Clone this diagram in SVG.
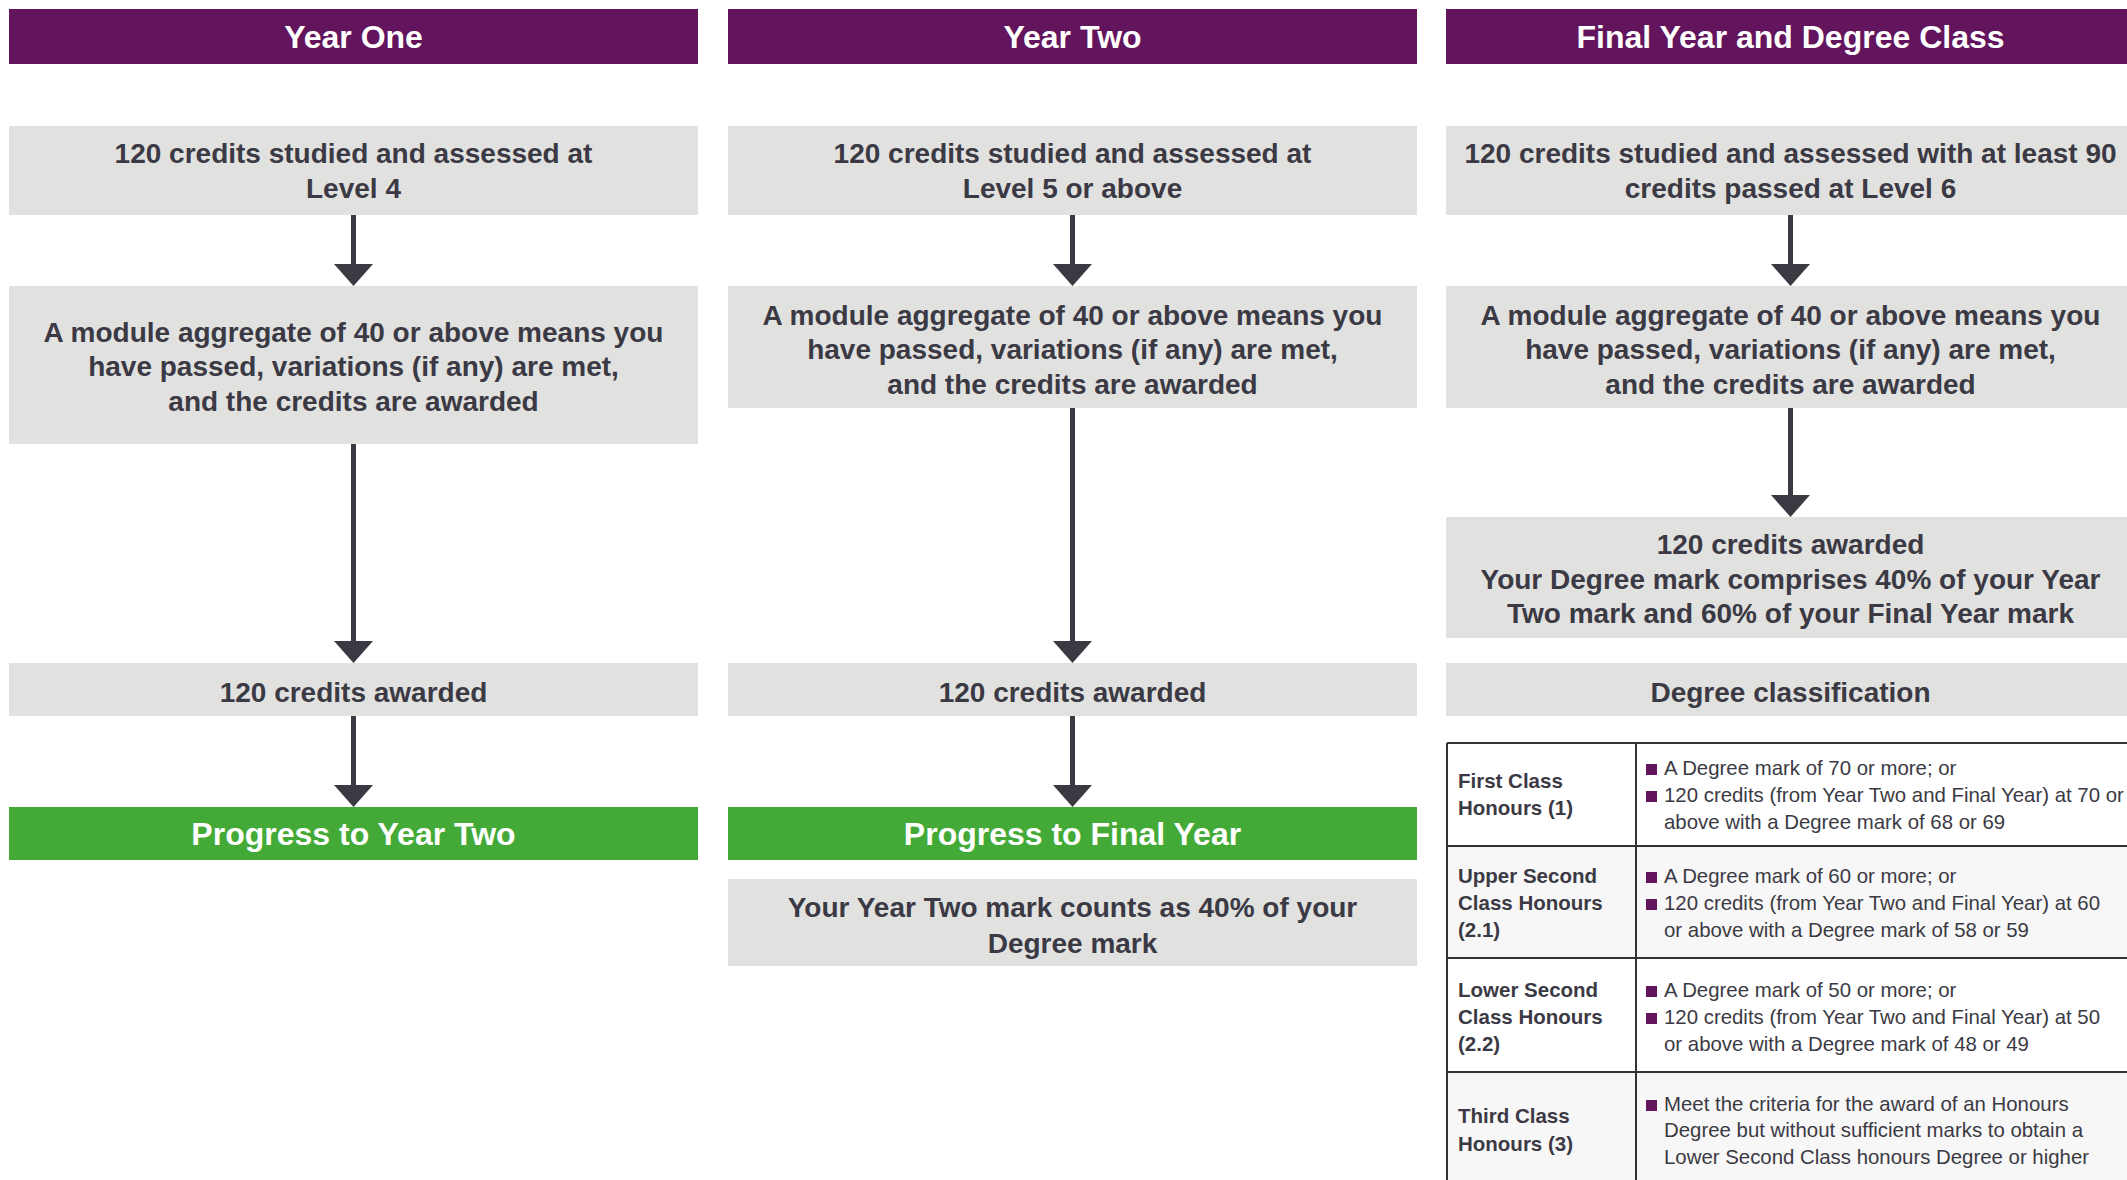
<svg xmlns="http://www.w3.org/2000/svg" width="2127" height="1180" viewBox="0 0 2127 1180">
<style>
.hdr{fill:#62145c}
.box{fill:#e1e1e0}
.go{fill:#44aa37}
.ht{font-family:"Liberation Sans",Arial,sans-serif;font-weight:bold;font-size:32px;fill:#ffffff;text-anchor:middle}
.bt{font-family:"Liberation Sans",Arial,sans-serif;font-weight:bold;font-size:28px;fill:#3b3a44;text-anchor:middle}
.lbl{font-family:"Liberation Sans",Arial,sans-serif;font-weight:bold;font-size:20.5px;fill:#3b3a44}
.bul{font-family:"Liberation Sans",Arial,sans-serif;font-size:20.4px;fill:#3b3a44}
.sq{fill:#62145c}
.ln{stroke:#3a3a42;stroke-width:5;fill:none}
.ah{fill:#3a3a42}
.grid{stroke:#333333;stroke-width:2;fill:none}
</style>
<rect width="2127" height="1180" fill="#ffffff"/>

<g id="col1">
<g id="h1"><rect class="hdr" x="9" y="9" width="689" height="55"/><text class="ht" x="353.5" y="48">Year One</text></g>
<g id="c1b1"><rect class="box" x="9" y="126" width="689" height="89"/><text class="bt" x="353.5" y="163">120 credits studied and assessed at</text><text class="bt" x="353.5" y="198">Level 4</text></g>
<g id="c1b2"><rect class="box" x="9" y="286" width="689" height="158"/><text class="bt" x="353.5" y="342">A module aggregate of 40 or above means you</text><text class="bt" x="353.5" y="376">have passed, variations (if any) are met,</text><text class="bt" x="353.5" y="411">and the credits are awarded</text></g>
<g id="c1b3"><rect class="box" x="9" y="663" width="689" height="53"/><text class="bt" x="353.5" y="702">120 credits awarded</text></g>
<g id="c1b4"><rect class="go" x="9" y="807" width="689" height="53"/><text class="ht" x="353.5" y="845">Progress to Year Two</text></g>
</g>

<g id="col2">
<g id="h2"><rect class="hdr" x="728" y="9" width="689" height="55"/><text class="ht" x="1072.5" y="48">Year Two</text></g>
<g id="c2b1"><rect class="box" x="728" y="126" width="689" height="89"/><text class="bt" x="1072.5" y="163">120 credits studied and assessed at</text><text class="bt" x="1072.5" y="198">Level 5 or above</text></g>
<g id="c2b2"><rect class="box" x="728" y="286" width="689" height="122"/><text class="bt" x="1072.5" y="325">A module aggregate of 40 or above means you</text><text class="bt" x="1072.5" y="359">have passed, variations (if any) are met,</text><text class="bt" x="1072.5" y="394">and the credits are awarded</text></g>
<g id="c2b3"><rect class="box" x="728" y="663" width="689" height="53"/><text class="bt" x="1072.5" y="702">120 credits awarded</text></g>
<g id="c2b4"><rect class="go" x="728" y="807" width="689" height="53"/><text class="ht" x="1072.5" y="845">Progress to Final Year</text></g>
<g id="c2b5"><rect class="box" x="728" y="879" width="689" height="87"/><text class="bt" x="1072.5" y="917">Your Year Two mark counts as 40% of your</text><text class="bt" x="1072.5" y="953">Degree mark</text></g>
</g>

<g id="col3">
<g id="h3"><rect class="hdr" x="1446" y="9" width="689" height="55"/><text class="ht" x="1790.5" y="48">Final Year and Degree Class</text></g>
<g id="c3b1"><rect class="box" x="1446" y="126" width="689" height="89"/><text class="bt" x="1790.5" y="163">120 credits studied and assessed with at least 90</text><text class="bt" x="1790.5" y="198">credits passed at Level 6</text></g>
<g id="c3b2"><rect class="box" x="1446" y="286" width="689" height="122"/><text class="bt" x="1790.5" y="325">A module aggregate of 40 or above means you</text><text class="bt" x="1790.5" y="359">have passed, variations (if any) are met,</text><text class="bt" x="1790.5" y="394">and the credits are awarded</text></g>
<g id="c3b3"><rect class="box" x="1446" y="517" width="689" height="121"/><text class="bt" x="1790.5" y="554">120 credits awarded</text><text class="bt" x="1790.5" y="589">Your Degree mark comprises 40% of your Year</text><text class="bt" x="1790.5" y="623">Two mark and 60% of your Final Year mark</text></g>
<g id="c3b4"><rect class="box" x="1446" y="663" width="689" height="53"/><text class="bt" x="1790.5" y="702">Degree classification</text></g>
</g>

<g id="table">
<rect x="1447" y="846" width="690" height="112" fill="#f7f7f7"/>
<rect x="1447" y="1072" width="690" height="120" fill="#f7f7f7"/>
<path class="grid" d="M1447 743H2135M1447 846H2135M1447 958H2135M1447 1072H2135M1447 743V1190M1636 743V1190"/>
<g id="r1">
<text class="lbl" x="1458" y="788">First Class</text><text class="lbl" x="1458" y="815">Honours (1)</text>
<rect class="sq" x="1646" y="764" width="11" height="11"/><rect class="sq" x="1646" y="791" width="11" height="11"/>
<text class="bul" x="1664" y="775">A Degree mark of 70 or more; or</text>
<text class="bul" x="1664" y="802">120 credits (from Year Two and Final Year) at 70 or</text>
<text class="bul" x="1664" y="829">above with a Degree mark of 68 or 69</text>
</g>
<g id="r2">
<text class="lbl" x="1458" y="883">Upper Second</text><text class="lbl" x="1458" y="910">Class Honours</text><text class="lbl" x="1458" y="937">(2.1)</text>
<rect class="sq" x="1646" y="872" width="11" height="11"/><rect class="sq" x="1646" y="899" width="11" height="11"/>
<text class="bul" x="1664" y="883">A Degree mark of 60 or more; or</text>
<text class="bul" x="1664" y="910">120 credits (from Year Two and Final Year) at 60</text>
<text class="bul" x="1664" y="937">or above with a Degree mark of 58 or 59</text>
</g>
<g id="r3">
<text class="lbl" x="1458" y="997">Lower Second</text><text class="lbl" x="1458" y="1024">Class Honours</text><text class="lbl" x="1458" y="1051">(2.2)</text>
<rect class="sq" x="1646" y="986" width="11" height="11"/><rect class="sq" x="1646" y="1013" width="11" height="11"/>
<text class="bul" x="1664" y="997">A Degree mark of 50 or more; or</text>
<text class="bul" x="1664" y="1024">120 credits (from Year Two and Final Year) at 50</text>
<text class="bul" x="1664" y="1051">or above with a Degree mark of 48 or 49</text>
</g>
<g id="r4">
<text class="lbl" x="1458" y="1123">Third Class</text><text class="lbl" x="1458" y="1151">Honours (3)</text>
<rect class="sq" x="1646" y="1100" width="11" height="11"/>
<text class="bul" x="1664" y="1111">Meet the criteria for the award of an Honours</text>
<text class="bul" x="1664" y="1137">Degree but without sufficient marks to obtain a</text>
<text class="bul" x="1664" y="1164">Lower Second Class honours Degree or higher</text>
</g>
</g>

<g id="connectors">
<path class="ln" d="M353.5 215V265M353.5 444V642M353.5 716V786"/>
<path class="ah" d="M334 264H373L353.5 286ZM334 641H373L353.5 663ZM334 785H373L353.5 807Z"/>
<path class="ln" d="M1072.5 215V265M1072.5 408V642M1072.5 716V786"/>
<path class="ah" d="M1053 264H1092L1072.5 286ZM1053 641H1092L1072.5 663ZM1053 785H1092L1072.5 807Z"/>
<path class="ln" d="M1790.5 215V265M1790.5 408V496"/>
<path class="ah" d="M1771 264H1810L1790.5 286ZM1771 495H1810L1790.5 517Z"/>
</g>
</svg>
